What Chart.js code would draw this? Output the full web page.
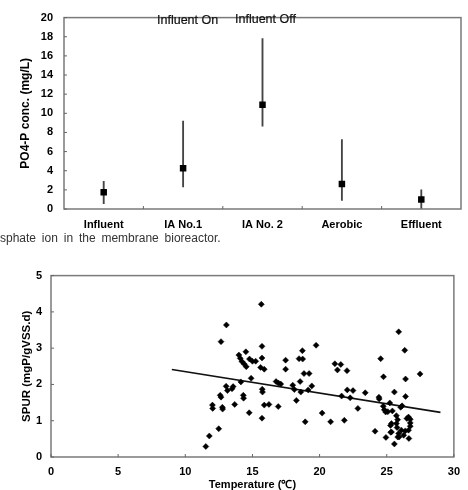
<!DOCTYPE html>
<html>
<head>
<meta charset="utf-8">
<script src="https://cdn.jsdelivr.net/npm/chart.js@4.4.0/dist/chart.umd.min.js"></script>
<style>
  html, body { margin:0; padding:0; background:#fff; overflow:hidden; width:468px; height:490px; }
  .box { position:absolute; left:0; }
  .note { position:absolute; font-family:"Liberation Sans", Arial, sans-serif; font-size:12.5px; color:#111; white-space:nowrap; -webkit-text-stroke:0.2px #111; }
  .cap { position:absolute; left:0; top:231px; font-family:"Liberation Sans", Arial, sans-serif; font-size:12px; color:#333; word-spacing:2.5px; white-space:nowrap; }
</style>
</head>
<body>
<div class="box" style="top:0;width:468px;height:232px;"><canvas id="c1" width="468" height="232"></canvas></div>
<div class="note" style="left:157px;top:13px;">Influent On</div>
<div class="note" style="left:235px;top:12px;">Influent Off</div>
<div class="cap">sphate ion in the membrane bioreactor.</div>
<div class="box" style="top:260px;width:468px;height:232px;"><canvas id="c2" width="468" height="232"></canvas></div>
<script>
// ---- Top chart data ----
const categories = ['Influent', 'IA No.1', 'IA No. 2', 'Aerobic', 'Effluent'];
const meanValues = [1.75, 4.25, 10.9, 2.6, 1.0];
const lowValues  = [0.55, 2.3, 8.65, 0.9, 0.0];
const highValues = [2.9, 9.2, 17.8, 7.25, 2.0];
const yTicksTop = [0, 2, 4, 6, 8, 10, 12, 14, 16, 18, 20];

// ---- Bottom chart data ----
const tempValues = [
  11.53, 11.79, 12.49, 12.02, 12.04, 12.6, 12.66, 12.76, 12.78, 12.66, 13.06, 13.04, 13.14, 13.48, 13.56, 13.68,
  13.99, 14.09, 14.22, 14.39, 14.54, 14.51, 14.78, 15.0, 15.24, 14.14, 14.32, 14.34, 14.76, 14.9,
  15.66, 15.71, 15.71, 15.61, 15.88, 15.73, 15.75, 15.71, 15.88, 16.23,
  16.76, 16.93, 17.11, 16.92, 17.47, 17.47, 18.0, 18.12, 18.27, 18.47, 18.74, 18.72, 18.55, 18.6,
  18.84, 19.22, 19.15, 19.42, 18.93, 19.74, 20.19, 20.82, 21.14, 21.58, 21.33, 22.04, 21.64, 21.84,
  22.06, 22.49, 22.28, 22.85, 23.4,
  24.13, 24.42, 24.44, 24.55, 24.76, 24.74, 24.82, 24.92, 24.94, 25.08, 25.23, 25.35, 25.35, 25.42,
  25.57, 25.57, 25.72, 25.77, 25.72, 25.81, 25.89, 25.89, 25.82, 26.04, 26.14, 26.09, 26.26, 26.34,
  26.4, 26.4, 26.38, 26.5, 26.62, 26.75, 26.75, 26.75, 26.62, 26.65, 27.48, 25.92, 25.3, 25.28
];
const spurValues = [
  0.29, 0.58, 0.78, 1.43, 1.34, 1.70, 1.65, 1.37, 1.32, 3.18, 3.64, 1.95, 1.83, 1.88, 1.94, 1.45,
  2.81, 2.72, 2.63, 2.56, 2.49, 2.90, 2.70, 2.64, 2.64, 2.07, 1.70, 1.62, 1.22, 2.17,
  4.21, 3.05, 2.73, 2.47, 2.42, 1.87, 1.79, 1.07, 1.43, 1.45,
  2.08, 2.04, 2.01, 1.39, 2.67, 2.42, 1.98, 1.86, 1.56, 2.71, 2.70, 2.93, 2.08, 1.79,
  2.30, 2.30, 1.85, 1.96, 0.97, 3.08, 1.21, 0.97, 2.57, 2.55, 2.40, 2.38, 1.68, 1.01,
  1.85, 1.83, 1.63, 1.34, 1.77,
  0.71, 1.65, 1.60, 2.71, 2.21, 1.40, 1.30, 1.24, 0.54, 1.25, 1.49, 0.92, 0.69, 1.27,
  1.79, 0.36, 1.14, 0.81, 0.92, 1.03, 3.45, 0.65, 0.55, 1.37, 1.41, 0.74, 0.60, 2.94,
  2.15, 1.67, 0.72, 1.06, 1.10, 1.04, 0.94, 0.85, 0.74, 0.51, 2.29, 0.55, 0.68, 0.87
];
const trendX = [9, 29];
const trendY = [2.41, 1.23];

const FONT = '"Liberation Sans", Arial, sans-serif';
Chart.defaults.font.family = FONT;
Chart.defaults.color = '#000';
Chart.defaults.animation = false;

// Frame + inward ticks plugin
const framePlugin = {
  id: 'frame',
  afterDatasetsDraw(chart, args, opts) {
    const {ctx, chartArea: a, scales} = chart;
    ctx.save();
    ctx.strokeStyle = '#7a7a7a';
    ctx.lineWidth = 1.5;
    ctx.strokeRect(a.left, a.top, a.right - a.left, a.bottom - a.top);
    ctx.lineWidth = 1;
    ctx.strokeStyle = '#666';
    const ys = scales.y;
    ys.ticks.forEach((t) => {
      const p = ys.getPixelForValue(t.value);
      ctx.beginPath(); ctx.moveTo(a.left, p); ctx.lineTo(a.left + 3, p); ctx.stroke();
    });
    const xs = scales.x;
    if (opts.category) {
      for (let i = 1; i < xs.ticks.length; i++) {
        const p = (xs.getPixelForValue(i - 1) + xs.getPixelForValue(i)) / 2;
        ctx.beginPath(); ctx.moveTo(p, a.bottom); ctx.lineTo(p, a.bottom - 3); ctx.stroke();
      }
    } else {
      xs.ticks.forEach((t) => {
        const p = xs.getPixelForValue(t.value);
        ctx.beginPath(); ctx.moveTo(p, a.bottom); ctx.lineTo(p, a.bottom - 3); ctx.stroke();
      });
    }
    ctx.restore();
  }
};

const tickFont = {family: FONT, size: 11, weight: 'bold'};
const titleFont = {family: FONT, size: 12, weight: 'bold'};

// ---- Top chart ----
new Chart(document.getElementById('c1'), {
  type: 'bar',
  data: {
    labels: categories,
    datasets: [
      {
        type: 'line',
        data: meanValues,
        showLine: false,
        pointStyle: 'rect',
        pointRadius: 4.6,
        pointBackgroundColor: '#000',
        pointBorderColor: '#000',
        pointBorderWidth: 0,
        order: 0
      },
      {
        type: 'bar',
        data: categories.map((c, i) => [lowValues[i], highValues[i]]),
        backgroundColor: '#444',
        barThickness: 1.2,
        order: 1
      }
    ]
  },
  options: {
    responsive: false,
    layout: {padding: {left: 0, top: 5, right: 7, bottom: 0}},
    plugins: {legend: {display: false}, tooltip: {enabled: false}, frame: {category: true}},
    scales: {
      x: {
        type: 'category',
        offset: true,
        grid: {display: false, drawTicks: false},
        border: {display: false},
        ticks: {font: tickFont, padding: 9, color: '#000'},
        afterFit(s) { s.height = 23; }
      },
      y: {
        min: 0, max: 20,
        afterBuildTicks(s) { s.ticks = yTicksTop.map(v => ({value: v})); },
        grid: {display: false, drawTicks: false},
        border: {display: false},
        ticks: {font: tickFont, padding: 11, color: '#000'},
        title: {display: true, text: 'PO4-P conc. (mg/L)', font: titleFont, padding: {top: 18}},
        afterFit(s) { s.width = 64; }
      }
    }
  },
  plugins: [framePlugin]
});

// ---- Bottom chart ----
new Chart(document.getElementById('c2'), {
  type: 'scatter',
  data: {
    datasets: [
      {
        type: 'scatter',
        data: tempValues.map((t, i) => ({x: t, y: spurValues[i]})),
        pointStyle: 'rectRot',
        pointRadius: 3,
        pointBackgroundColor: '#000',
        pointBorderColor: '#000',
        pointBorderWidth: 0.5,
        order: 0
      },
      {
        type: 'line',
        data: trendX.map((x, i) => ({x: x, y: trendY[i]})),
        borderColor: '#111',
        borderWidth: 1.6,
        pointRadius: 0,
        fill: false,
        order: 1
      }
    ]
  },
  options: {
    responsive: false,
    layout: {padding: {left: 0, top: 14, right: 9, bottom: 0}},
    plugins: {legend: {display: false}, tooltip: {enabled: false}, frame: {category: false}},
    scales: {
      x: {
        type: 'linear', min: 0, max: 30,
        ticks: {stepSize: 5, font: tickFont, padding: 8, color: '#000'},
        grid: {display: false, drawTicks: false},
        border: {display: false},
        title: {display: true, text: 'Temperature (℃)', font: {family: FONT, size: 11, weight: 'bold'}, padding: {top: 0, bottom: 0}},
        afterFit(s) { s.height = 35; }
      },
      y: {
        type: 'linear', min: 0, max: 5,
        ticks: {stepSize: 1, font: tickFont, padding: 9, color: '#000'},
        grid: {display: false, drawTicks: false},
        border: {display: false},
        title: {display: true, text: 'SPUR (mgP/gVSS.d)', font: {family: FONT, size: 11.5, weight: 'bold', lineHeight: 1}, padding: {top: 21}},
        afterFit(s) { s.width = 51; }
      }
    }
  },
  plugins: [framePlugin]
});
</script>
</body>
</html>
